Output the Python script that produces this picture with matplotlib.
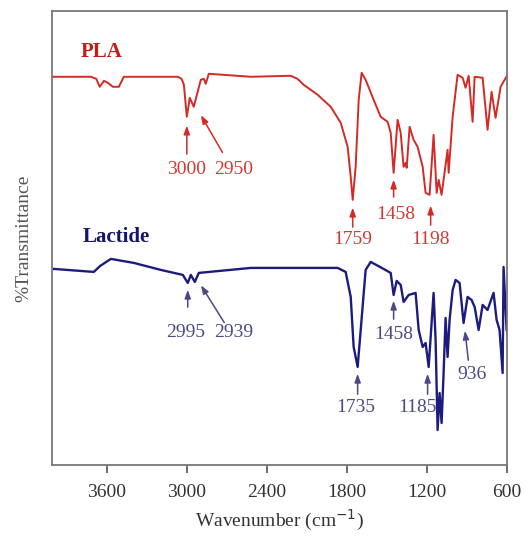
import matplotlib
matplotlib.use("Agg")
import matplotlib.pyplot as plt

# ---- data (wavenumber cm-1, transmittance in arbitrary units) ----
pla_wn = [4005, 3720, 3680, 3653, 3622, 3593, 3555, 3510, 3473, 3068, 3040, 3022, 3000, 2978, 2948,
          2895, 2872, 2858, 2835, 2520, 2220, 2170, 2123, 2018, 1920, 1845, 1793, 1770, 1755,
          1733, 1710, 1688, 1658, 1598, 1545, 1493, 1470, 1448, 1418, 1395, 1373, 1358,
          1350, 1328, 1298, 1268, 1230, 1208, 1178, 1148, 1125, 1110, 1088, 1043, 1035,
          1005, 968, 930, 908, 885, 855, 840, 780, 743, 713, 683, 645, 593]
pla_t = [388, 388, 386, 378, 384, 382, 378, 378, 388, 388, 386, 380, 348, 367, 358,
         385, 386, 381, 391, 388, 389, 386, 380, 370, 358, 342, 318, 288, 265,
         298, 365, 392, 385, 365, 348, 343, 332, 292, 345, 332, 298, 302,
         297, 338, 325, 318, 298, 272, 270, 330, 272, 285, 270, 315, 292,
         348, 390, 387, 377, 389, 343, 388, 387, 335, 373, 347, 378, 390]

lac_wn = [3998, 3698, 3650, 3570, 3398, 3195, 3030, 2993, 2970, 2940, 2910, 2520, 1868, 1808,
          1770, 1748, 1718, 1695, 1658, 1620, 1523, 1470, 1448, 1425, 1395, 1373, 1335,
          1283, 1260, 1230, 1208, 1185, 1148, 1133, 1118, 1103, 1088, 1073, 1058, 1043,
          1028, 1005, 983, 953, 923, 893, 863, 840, 810, 780, 743, 698, 675, 653, 630,
          623, 600, 585]
lac_t = [196, 193, 199, 206, 202, 195, 190, 182, 190, 183, 192, 197, 197, 193,
         168, 118, 98, 135, 195, 203, 196, 192, 170, 184, 180, 163, 170,
         172, 135, 118, 122, 98, 172, 125, 35, 72, 42, 92, 147, 108,
         145, 175, 185, 182, 142, 168, 165, 158, 135, 160, 155, 172, 145, 135, 92,
         198, 135, 128]

xticks = [3600, 3000, 2400, 1800, 1200, 600]

# annotations: label, text position (wn, t), arrow tail (wn, t), arrow head (wn, t)
pla_labels = ["3000", "2950", "1759", "1458", "1198"]
pla_text = [(3000, 295), (2648, 295), (1755, 225), (1433, 250), (1170, 225)]
pla_tail = [(3000, 308), (2722, 310), (1755, 235), (1448, 265), (1170, 237)]
pla_head = [(3000, 342), (2905, 352), (1755, 260), (1448, 288), (1170, 262)]

lac_labels = ["2995", "2939", "1735", "1458", "1185", "936"]
lac_text = [(3008, 132), (2648, 132), (1733, 58), (1448, 130), (1268, 58), (863, 90)]
lac_tail = [(2993, 155), (2708, 140), (1718, 68), (1448, 143), (1193, 68), (885, 102)]
lac_head = [(2993, 178), (2905, 182), (1718, 94), (1448, 167), (1193, 94), (915, 137)]

red = "#d42a26"
red_txt = "#d03a34"
blue = "#1c1c7e"
blue_txt = "#4a4a86"

plt.rcParams["font.family"] = ["Liberation Serif", "DejaVu Serif"]

fig = plt.figure(figsize=(5.25, 5.37), dpi=100)
ax = fig.add_axes([0.099, 0.134, 0.867, 0.846])

ax.plot(pla_wn, pla_t, color=red, lw=1.4)
ax.plot(lac_wn, lac_t, color=blue, lw=1.7)

ax.set_xlim(4012, 596)
ax.set_ylim(0, 454)
ax.set_xticks(xticks)
ax.set_xticklabels([str(v) for v in xticks], fontsize=14, color="#333333")
ax.set_yticks([])
ax.tick_params(axis="x", direction="out", length=6, width=1.2, color="#555555", pad=8)
for s in ax.spines.values():
    s.set_color("#777777")
    s.set_linewidth(1.3)

ax.set_xlabel("Wavenumber (cm$^{-1}$)", fontsize=14, color="#333333", labelpad=5)
ax.set_ylabel("%Transmittance", fontsize=14, color="#555555", labelpad=14)

ax.text(3795, 413, "PLA", color="#c41e1a", fontsize=15, fontweight="bold", va="center", ha="left")
ax.text(3780, 228, "Lactide", color="#151570", fontsize=15, fontweight="bold", va="center", ha="left")

for lab, t, a, h in zip(pla_labels, pla_text, pla_tail, pla_head):
    ax.annotate("", xy=h, xytext=a,
                arrowprops=dict(arrowstyle="-|>,head_length=0.5,head_width=0.18", color=red, lw=1.1))
    ax.text(t[0], t[1], lab, color=red_txt, fontsize=14, ha="center", va="center")

for lab, t, a, h in zip(lac_labels, lac_text, lac_tail, lac_head):
    ax.annotate("", xy=h, xytext=a,
                arrowprops=dict(arrowstyle="-|>,head_length=0.5,head_width=0.18", color=blue_txt, lw=1.1))
    ax.text(t[0], t[1], lab, color=blue_txt, fontsize=14, ha="center", va="center")

fig.savefig("out.png", dpi=100)
